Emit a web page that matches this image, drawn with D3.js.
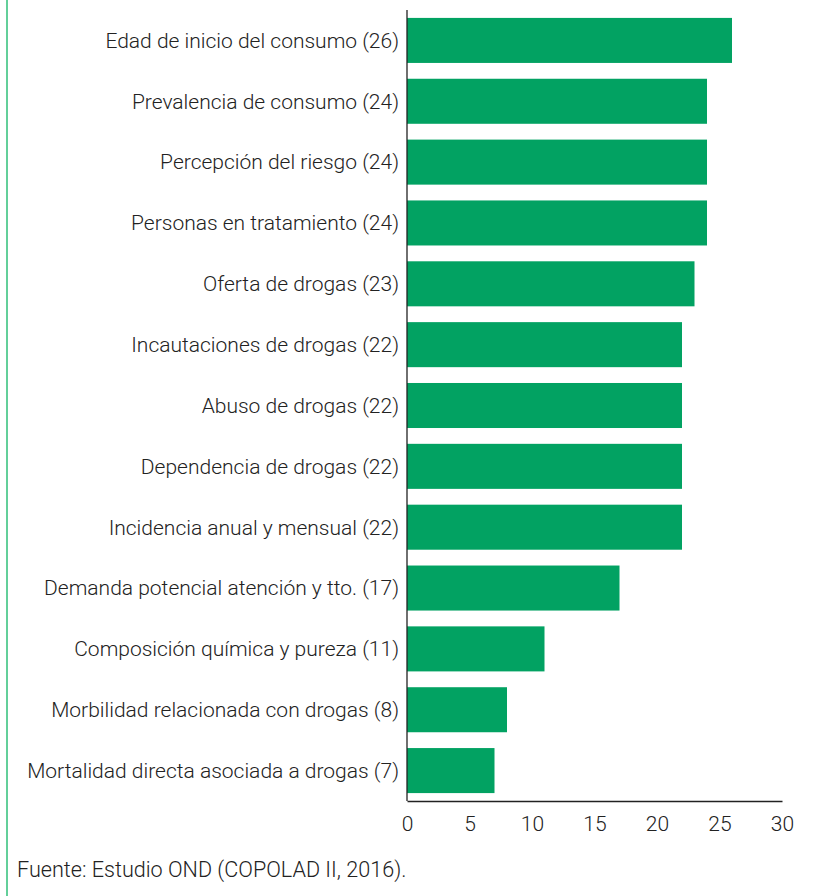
<!DOCTYPE html>
<html>
<head>
<meta charset="utf-8">
<script src="https://cdn.jsdelivr.net/npm/d3@7"></script>
<style>
	body { margin: 0; background: #fff; }
	text { font-family: Roboto, "Liberation Sans", Arial, sans-serif; font-weight: 300; fill: #222; }
</style>
</head>
<body>
<svg id="chart"></svg>
<script>
// indicators and number of countries reporting them
let categories = [
	"Edad de inicio del consumo",
	"Prevalencia de consumo",
	"Percepción del riesgo",
	"Personas en tratamiento",
	"Oferta de drogas",
	"Incautaciones de drogas",
	"Abuso de drogas",
	"Dependencia de drogas",
	"Incidencia anual y mensual",
	"Demanda potencial atención y tto.",
	"Composición química y pureza",
	"Morbilidad relacionada con drogas",
	"Mortalidad directa asociada a drogas"
];
let values = [26, 24, 24, 24, 23, 22, 22, 22, 22, 17, 11, 8, 7];
let xTicks = [0, 5, 10, 15, 20, 25, 30];
let source = "Fuente: Estudio OND (COPOLAD II, 2016).";

let svgWidth = 832, svgHeight = 896;
let fontSize = 21;
let svg = d3.select("#chart")
	.attr("width", svgWidth)
	.attr("height", svgHeight);

// green frame line on the left
svg.append("line")
	.attr("x1", 7).attr("x2", 7)
	.attr("y1", 0).attr("y2", svgHeight)
	.attr("stroke", "#2fbf78")
	.attr("stroke-width", 1.5);

let x = d3.scaleLinear()
	.domain([0, 30])
	.range([407, 782]);

let y = d3.scaleBand()
	.domain(categories)
	.range([10, 801])
	.paddingInner(0.26)
	.paddingOuter(0.13);

let data = categories.map((c, i) => ({ name: c, value: values[i] }));

//bars
svg.append("g")
	.selectAll("rect")
	.data(data)
	.enter()
	.append("rect")
	.attr("x", x(0))
	.attr("y", d => y(d.name))
	.attr("width", d => x(d.value) - x(0))
	.attr("height", y.bandwidth())
	.attr("fill", "#02a262");

//labels
svg.append("g")
	.selectAll("text")
	.data(data)
	.enter()
	.append("text")
	.attr("x", x(0) - 8)
	.attr("y", d => y(d.name) + y.bandwidth() / 2)
	.attr("dy", "0.35em")
	.attr("text-anchor", "end")
	.attr("font-size", fontSize)
	.text(d => d.name + " (" + d.value + ")");

//axes
let xAxis = svg.append("g")
	.attr("transform", "translate(0,801)")
	.call(d3.axisBottom(x).tickValues(xTicks).tickSize(0).tickPadding(15));
xAxis.select(".domain").attr("stroke", "#222").attr("stroke-width", 1.3);
xAxis.selectAll("text")
	.attr("font-size", fontSize)
	.attr("fill", "#222")
	.style("font-family", "Roboto, 'Liberation Sans', Arial, sans-serif");

svg.append("line")
	.attr("x1", x(0)).attr("x2", x(0))
	.attr("y1", 10).attr("y2", 801)
	.attr("stroke", "#222")
	.attr("stroke-width", 1.3);

svg.append("text")
	.attr("x", 17)
	.attr("y", 877)
	.attr("font-size", 21.6)
	.text(source);
</script>
</body>
</html>
